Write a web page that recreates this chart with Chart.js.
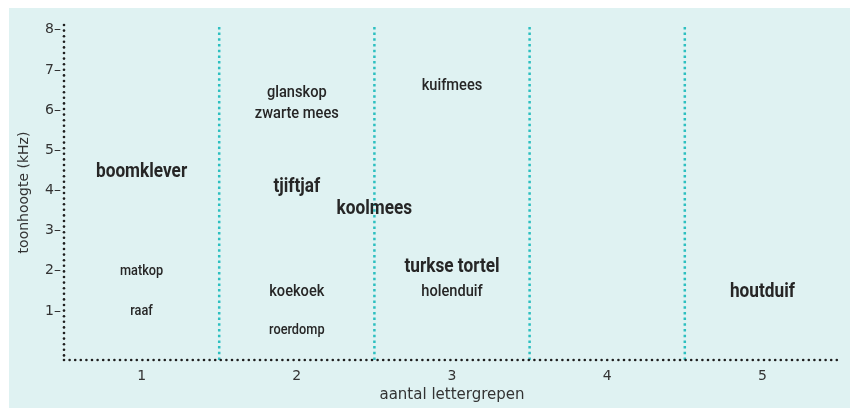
<!DOCTYPE html>
<html><head><meta charset="utf-8">
<script src="https://cdn.jsdelivr.net/npm/chart.js@4"></script>
<style>
html,body{margin:0;padding:0;background:#fff;width:850px;height:408px;overflow:hidden}
#wrap{position:absolute;left:9px;top:8px;width:841px;height:400px;background:#dff2f2}
</style></head>
<body><div id="wrap"><canvas id="c" width="841" height="400"></canvas></div>
<script>
const birds = ['boomklever','matkop','raaf','glanskop','zwarte mees','tjiftjaf','koolmees','kuifmees','koekoek','roerdomp','turkse tortel','holenduif','houtduif'];
const syllables = [1,1,1,2,2,2,2.5,3,2,2,3,3,5];
const pitchKHz = [4.46,2.0,1.0,6.43,5.9,4.09,3.54,6.6,1.47,0.52,2.09,1.49,1.47];
const highlighted = ['boomklever','tjiftjaf','koolmees','turkse tortel','houtduif'];
const small = ['roerdomp','matkop','raaf'];
const xTicks = [1,2,3,4,5];
const yTicks = [1,2,3,4,5,6,7,8];
const dividers = [1.5,2.5,3.5,4.5];
const xRange = [0.5,5.5];
const yRange = [-0.22,8.12];

const labelFont = 'Roboto, "DejaVu Sans", sans-serif';
const tickFont = '"DejaVu Sans", sans-serif';

const divDatasets = dividers.map(d => ({
  type:'line',
  data:[{x:d,y:yRange[0]},{x:d,y:yRange[1]}],
  borderColor:'#2cbfc0', borderWidth:2.5, borderDash:[2.5,3.2],
  pointRadius:0, fill:false
}));

function dottedLine(ctx, x1, y1, x2, y2, step, r, color){
  const len = Math.hypot(x2-x1, y2-y1);
  const n = Math.floor(len/step);
  ctx.fillStyle = color;
  for (let i=0;i<=n;i++){
    const t = i*step/len;
    ctx.beginPath();
    ctx.arc(x1+(x2-x1)*t, y1+(y2-y1)*t, r, 0, Math.PI*2);
    ctx.fill();
  }
}

const axesPlugin = {
  id:'dottedAxes',
  afterDatasetsDraw(chart){
    const {ctx, chartArea:a} = chart;
    ctx.save();
    dottedLine(ctx, a.left, a.top, a.left, a.bottom, 5.6, 1.3, '#1e1e1e');
    dottedLine(ctx, a.left, a.bottom, a.right, a.bottom, 5.6, 1.3, '#1e1e1e');
    ctx.restore();
  }
};

const textPlugin = {
  id:'birdText',
  afterDatasetsDraw(chart){
    const {ctx, scales:{x,y}} = chart;
    ctx.save();
    ctx.fillStyle = '#262626';
    ctx.textAlign = 'center';
    ctx.textBaseline = 'middle';
    birds.forEach((b,i)=>{
      let f, sx;
      if (highlighted.includes(b)) { f = 'bold 21px ' + labelFont; sx = 0.82; }
      else if (small.includes(b)) { f = '500 15px ' + labelFont; sx = 0.85; }
      else { f = '500 17px ' + labelFont; sx = 0.86; }
      ctx.font = f;
      const px = x.getPixelForValue(syllables[i]);
      const py = y.getPixelForValue(pitchKHz[i]);
      ctx.save();
      ctx.translate(px, py);
      ctx.scale(sx, 1);
      ctx.fillText(b, 0, 0);
      ctx.restore();
    });
    ctx.restore();
  }
};

new Chart(document.getElementById('c'), {
  type:'scatter',
  data:{datasets: divDatasets},
  options:{
    responsive:false, animation:false,
    layout:{padding:{top:17,right:10,left:0,bottom:0}},
    plugins:{legend:{display:false},tooltip:{enabled:false}},
    scales:{
      x:{
        type:'linear', min:xRange[0], max:xRange[1],
        afterBuildTicks(s){ s.ticks = xTicks.map(v=>({value:v})); },
        afterFit(s){ s.height = 48; },
        grid:{display:false, drawTicks:false},
        border:{display:false},
        ticks:{color:'#333', font:{family:tickFont, size:14}, padding:8},
        title:{display:true, text:'aantal lettergrepen', color:'#333', font:{family:tickFont, size:15}, padding:{top:1}}
      },
      y:{
        type:'linear', min:yRange[0], max:yRange[1],
        afterBuildTicks(s){ s.ticks = yTicks.map(v=>({value:v})); },
        afterFit(s){ s.width = 55; },
        grid:{display:false, drawTicks:false},
        border:{display:false},
        ticks:{color:'#333', font:{family:tickFont, size:14}, padding:3, callback:v=>v+'–'},
        title:{display:true, text:'toonhoogte (kHz)', color:'#333', font:{family:tickFont, size:14}, padding:{top:7,bottom:0}}
      }
    }
  },
  plugins:[axesPlugin, textPlugin]
});
</script></body></html>
